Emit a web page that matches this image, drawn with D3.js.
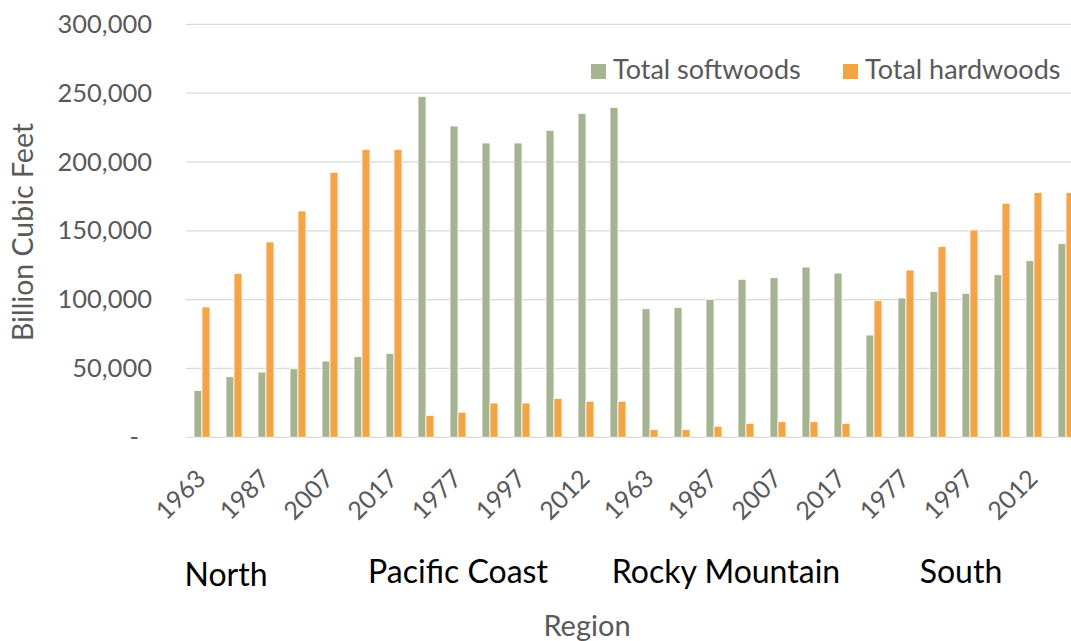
<!DOCTYPE html>
<html>
<head>
<meta charset="utf-8">
<script src="https://cdn.jsdelivr.net/npm/d3@7"></script>
<style>
  html, body { margin: 0; padding: 0; background: #fff; }
  svg { display: block; font-family: Lato, "Open Sans", sans-serif; }
</style>
</head>
<body>
<svg id="chart" width="1071" height="641"></svg>
<script>
// Growing-stock volume by region and inventory year
const regions = ["North", "Pacific Coast", "Rocky Mountain", "South"];
const years = ["1963", "1977", "1987", "1997", "2007", "2012", "2017"];
const seriesNames = ["Total softwoods", "Total hardwoods"];
const seriesColors = ["#a5b592", "#f4a444"];

// values per region, in year order
const softwoods = [
  [34000, 44000, 47400, 49800, 55400, 58600, 61000],         // North
  [247700, 226100, 213800, 213800, 223000, 235300, 239700],  // Pacific Coast
  [93400, 94400, 100200, 114800, 115900, 123700, 119300],    // Rocky Mountain
  [74300, 101200, 106000, 104600, 118100, 128300, 140600]    // South
];
const hardwoods = [
  [94700, 119100, 141900, 164400, 192500, 209200, 209200],
  [16000, 18200, 24900, 24900, 28300, 26200, 26200],
  [5800, 5800, 8000, 10200, 11300, 11300, 10200],
  [99200, 121500, 138500, 150600, 170000, 177700, 177700]
];
const yTicks = [0, 50000, 100000, 150000, 200000, 250000, 300000];

// flatten into one row per region/year category
const rows = [];
regions.forEach((r, ri) => {
  years.forEach((y, yi) => {
    rows.push({ region: r, year: y, values: [softwoods[ri][yi], hardwoods[ri][yi]] });
  });
});

const svg = d3.select("#chart");
const plotLeft = 186, plotRight = 1082, plotTop = 24.3, plotBottom = 437.3;

const x = d3.scaleBand()
  .domain(d3.range(rows.length))
  .range([plotLeft, plotRight])
  .paddingInner(0.5)
  .paddingOuter(0.25);
const xs = d3.scaleBand().domain(d3.range(seriesNames.length)).range([0, x.bandwidth()]);
const y = d3.scaleLinear().domain([0, 300000]).range([plotBottom, plotTop]);

// horizontal gridlines
svg.append("g")
  .selectAll("line")
  .data(yTicks)
  .join("line")
  .attr("x1", plotLeft).attr("x2", plotRight)
  .attr("y1", d => y(d)).attr("y2", d => y(d))
  .attr("stroke", "#d9d9d9").attr("stroke-width", 1.3);

// y axis labels
const fmt = d3.format(",");
const yAxis = svg.append("g")
  .attr("transform", `translate(152,0)`)
  .call(d3.axisLeft(y).tickValues(yTicks).tickSize(0).tickPadding(0)
    .tickFormat(d => d === 0 ? "-" : fmt(d)));
yAxis.select(".domain").remove();
yAxis.selectAll("text")
  .attr("fill", "#595959")
  .attr("font-size", 25.5)
  .attr("font-family", "Lato, sans-serif");
yAxis.selectAll(".tick").filter(d => d === 0).select("text").attr("dx", -13);

// bars
const groups = svg.append("g")
  .selectAll("g")
  .data(rows)
  .join("g")
  .attr("transform", (d, i) => `translate(${x(i)},0)`);
groups.selectAll("rect")
  .data(d => d.values)
  .join("rect")
  .attr("x", (d, i) => xs(i))
  .attr("width", xs.bandwidth())
  .attr("y", d => y(d))
  .attr("height", d => y(0) - y(d))
  .attr("fill", (d, i) => seriesColors[i])
  .attr("stroke", "#ffffff")
  .attr("stroke-width", 0.8);

// year tick labels, every second category
svg.append("g")
  .selectAll("text")
  .data(rows.map((r, i) => ({ r, i })).filter(d => d.i % 2 === 0))
  .join("text")
  .attr("transform", d => `translate(${x(d.i) + x.bandwidth() / 2 - 1},474) rotate(-45)`)
  .attr("text-anchor", "end")
  .attr("dy", "0.35em")
  .attr("fill", "#595959")
  .attr("font-size", 25)
  .text(d => d.r.year);

// region labels
const regionLabelPos = [[226, 586], [458, 583], [726, 583], [961, 583]];
svg.append("g")
  .selectAll("text")
  .data(regions)
  .join("text")
  .attr("x", (d, i) => regionLabelPos[i][0])
  .attr("y", (d, i) => regionLabelPos[i][1])
  .attr("text-anchor", "middle")
  .attr("fill", "#000")
  .attr("font-size", 32)
  .text(d => d);

// axis titles
svg.append("text")
  .attr("x", 587).attr("y", 636)
  .attr("text-anchor", "middle")
  .attr("fill", "#595959")
  .attr("font-size", 29)
  .text("Region");
svg.append("text")
  .attr("transform", "translate(33,232) rotate(-90)")
  .attr("text-anchor", "middle")
  .attr("fill", "#595959")
  .attr("font-size", 28.5)
  .text("Billion Cubic Feet");

// legend
const legendPos = [591, 843];
const legend = svg.append("g")
  .selectAll("g")
  .data(seriesNames)
  .join("g")
  .attr("transform", (d, i) => `translate(${legendPos[i]},64)`);
legend.append("rect")
  .attr("width", 15).attr("height", 15)
  .attr("fill", (d, i) => seriesColors[i]);
legend.append("text")
  .attr("x", 22).attr("y", 15)
  .attr("fill", "#595959")
  .attr("font-size", 27)
  .text(d => d);
</script>
</body>
</html>
